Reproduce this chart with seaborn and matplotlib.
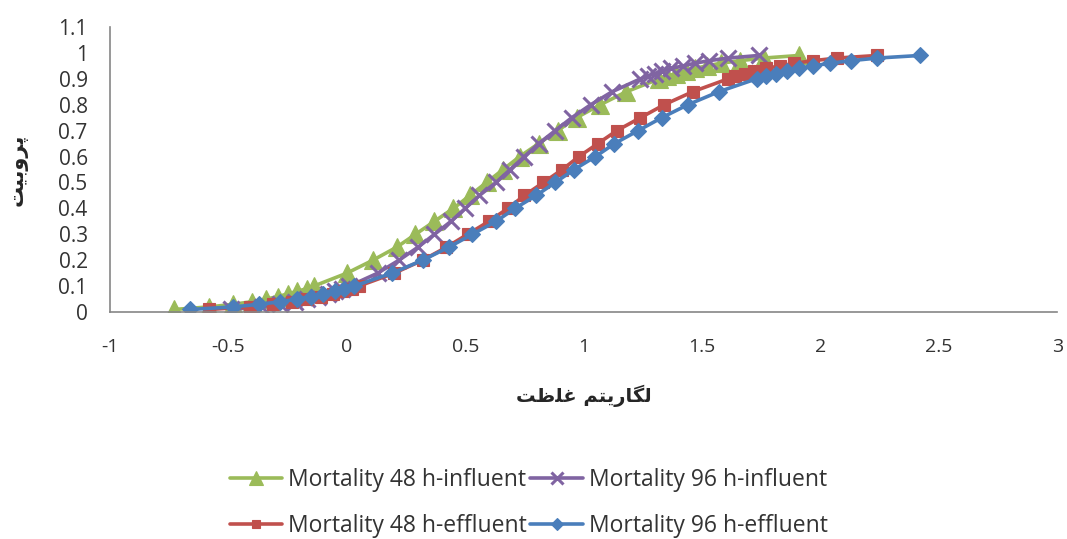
import numpy as np
import pandas as pd
import matplotlib
matplotlib.use("Agg")
import matplotlib.pyplot as plt
import seaborn as sns

# Datos (probabilidad de mortalidad vs log de concentracion)
prob = [0.01, 0.02, 0.03, 0.04, 0.05, 0.06, 0.07, 0.08, 0.09, 0.10,
        0.15, 0.20, 0.25, 0.30, 0.35, 0.40, 0.45, 0.50, 0.55, 0.60,
        0.65, 0.70, 0.75, 0.80, 0.85, 0.90, 0.91, 0.92, 0.93, 0.94,
        0.95, 0.96, 0.97, 0.98, 0.99]

logc_48_influent = [-0.73, -0.58, -0.48, -0.40, -0.34, -0.29, -0.25, -0.21, -0.17, -0.14,
                    0.00, 0.11, 0.21, 0.29, 0.37, 0.45, 0.52, 0.59, 0.66, 0.73,
                    0.81, 0.89, 0.97, 1.07, 1.18, 1.32, 1.35, 1.39, 1.43, 1.47,
                    1.52, 1.58, 1.66, 1.76, 1.91]
logc_96_influent = [-0.49, -0.36, -0.28, -0.22, -0.17, -0.12, -0.08, -0.05, -0.02, 0.01,
                    0.13, 0.22, 0.30, 0.37, 0.44, 0.50, 0.56, 0.63, 0.69, 0.75,
                    0.81, 0.88, 0.95, 1.03, 1.12, 1.24, 1.27, 1.30, 1.33, 1.37,
                    1.42, 1.47, 1.53, 1.61, 1.74]
logc_48_effluent = [-0.58, -0.41, -0.31, -0.23, -0.17, -0.11, -0.06, -0.02, 0.02, 0.05,
                    0.20, 0.32, 0.42, 0.51, 0.60, 0.68, 0.75, 0.83, 0.91, 0.98,
                    1.06, 1.14, 1.24, 1.34, 1.46, 1.61, 1.64, 1.68, 1.72, 1.77,
                    1.83, 1.89, 1.97, 2.07, 2.24]
logc_96_effluent = [-0.66, -0.48, -0.37, -0.28, -0.21, -0.15, -0.10, -0.05, -0.01, 0.03,
                    0.19, 0.32, 0.43, 0.53, 0.63, 0.71, 0.80, 0.88, 0.96, 1.05,
                    1.13, 1.23, 1.33, 1.44, 1.57, 1.73, 1.77, 1.81, 1.86, 1.91,
                    1.97, 2.04, 2.13, 2.24, 2.42]

series_names = ["Mortality 48 h-influent", "Mortality 96 h-influent",
                "Mortality 48 h-effluent", "Mortality 96 h-effluent"]
series_x = [logc_48_influent, logc_96_influent, logc_48_effluent, logc_96_effluent]
colors = ["#9BBB59", "#8064A2", "#C0504D", "#4A7EBB"]
markers = ["^", "x", "s", "D"]
msizes = [13, 12, 8.5, 8]

x_ticks = [-1, -0.5, 0, 0.5, 1, 1.5, 2, 2.5, 3]
y_ticks = [0, 0.1, 0.2, 0.3, 0.4, 0.5, 0.6, 0.7, 0.8, 0.9, 1, 1.1]

# Textos en persa (formas de presentacion, orden visual)
y_label = "\uFE96\uFBFF\uFE91\uFEED\uFEAE\uFB58"            # پروبیت
x_label = "\uFE96\uFEC7\uFEE0\uFECF \uFEE2\uFE98\uFBFE\uFEAD\uFE8E\uFB95\uFEDF"  # لگاریتم غلظت

sns.set_style("white")
plt.rcParams["font.family"] = ["Open Sans", "DejaVu Sans"]

fig = plt.figure(figsize=(10.67, 5.39), dpi=100)
ax = fig.add_axes([0.103, 0.421, 0.888, 0.529])

for name, xs, c, m, ms in zip(series_names, series_x, colors, markers, msizes):
    df = pd.DataFrame({"logc": xs, "p": prob})
    sns.lineplot(data=df, x="logc", y="p", ax=ax, color=c, marker=m,
                 markersize=ms, linewidth=2.6, label=name,
                 markeredgecolor=c, markeredgewidth=2.2 if m == "x" else 0.8,
                 sort=False, estimator=None)

ax.set_xlim(-1, 3)
ax.set_ylim(0, 1.1)
ax.set_xticks(x_ticks)
ax.set_xticklabels([f"{t:g}" for t in x_ticks])
ax.set_yticks(y_ticks)
ax.set_yticklabels([f"{t:g}" for t in y_ticks])
ax.tick_params(axis="x", length=5, width=1, color="#868686", labelsize=14,
               pad=14, labelcolor="#333333")
ax.tick_params(axis="y", length=0, labelsize=15, pad=16, labelcolor="#333333")
for side in ["top", "right"]:
    ax.spines[side].set_visible(False)
for side in ["left", "bottom"]:
    ax.spines[side].set_color("#868686")
    ax.spines[side].set_linewidth(1.2)

ax.set_xlabel(x_label, family="DejaVu Sans", fontweight="bold", fontsize=14, labelpad=20)
ax.set_ylabel(y_label, family="DejaVu Sans", fontweight="bold", fontsize=15, labelpad=22)

# Leyenda en dos filas: (48 inf, 96 inf) / (48 eff, 96 eff)
handles, labels = ax.get_legend_handles_labels()
order = [0, 2, 1, 3]
ax.legend([handles[i] for i in order], [labels[i] for i in order],
          ncol=2, loc="center", bbox_to_anchor=(0.442, -0.67), frameon=False,
          fontsize=16.5, handlelength=2.3, columnspacing=0.15, handletextpad=0.25,
          labelspacing=0.95, markerscale=0.75, labelcolor="#333333")

fig.savefig("out.png", dpi=100)
